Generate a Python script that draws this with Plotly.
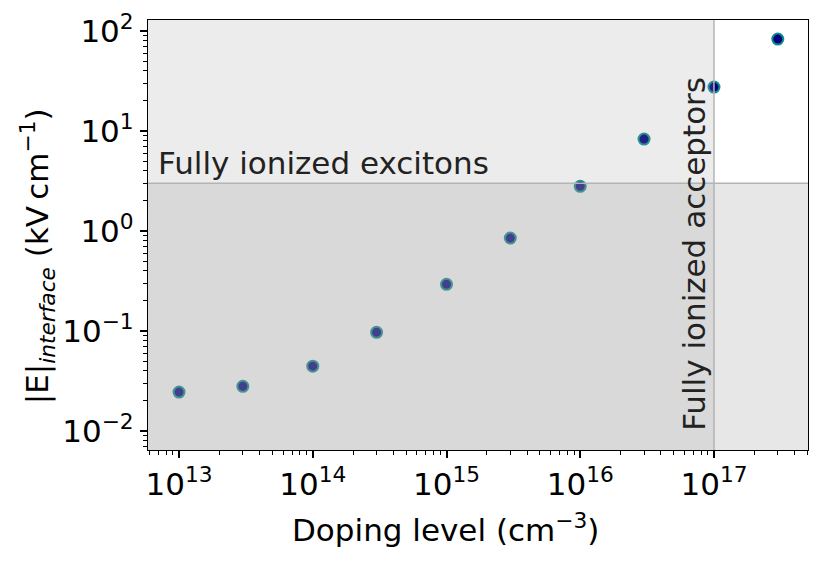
import math
import plotly.graph_objects as go

# doping level (cm^-3) and interface field (kV/cm)
doping = [1e13, 3e13, 1e14, 3e14, 1e15, 3e15, 1e16, 3e16, 1e17, 3e17]
e_field = [0.0245, 0.028, 0.0445, 0.097, 0.293, 0.85, 2.8, 8.3, 27.5, 83.0]

x_tickvals = [1e13, 1e14, 1e15, 1e16, 1e17]
x_ticktext = ["10<sup>13</sup>", "10<sup>14</sup>", "10<sup>15</sup>", "10<sup>16</sup>", "10<sup>17</sup>"]
y_tickvals = [1e-2, 1e-1, 1, 10, 100]
y_ticktext = ["10<sup>\u22122</sup>", "10<sup>\u22121</sup>", "10<sup>0</sup>", "10<sup>1</sup>", "10<sup>2</sup>"]

exciton_field = 3.0      # kV/cm, fully ionized excitons
acceptor_doping = 1e17   # cm^-3, fully ionized acceptors

FONT = "DejaVu Sans"
FS = 31

fig = go.Figure()
fig.add_trace(go.Scatter(
    x=doping, y=e_field, mode="markers",
    marker=dict(size=11, color="#000080", line=dict(color="#0e8c8c", width=2)),
    showlegend=False,
))

# shaded regions drawn over the markers, as in the original
fig.add_shape(type="rect", xref="x", yref="y domain",
              x0=1e5, x1=acceptor_doping, y0=0, y1=1,
              fillcolor="rgba(160,160,160,0.2)", line_width=0, layer="above")
fig.add_shape(type="rect", xref="x domain", yref="y",
              x0=0, x1=1, y0=1e-6, y1=exciton_field,
              fillcolor="rgba(160,160,160,0.25)", line_width=0, layer="above")
fig.add_shape(type="line", xref="x", yref="y domain",
              x0=acceptor_doping, x1=acceptor_doping, y0=0, y1=1,
              line=dict(color="#b4b4b4", width=1.5), layer="above")
fig.add_shape(type="line", xref="x domain", yref="y",
              x0=0, x1=1, y0=exciton_field, y1=exciton_field,
              line=dict(color="#b4b4b4", width=1.5), layer="above")

fig.add_annotation(text="Fully ionized excitons", xref="x domain", yref="y",
                   x=0.012, y=math.log10(exciton_field), xanchor="left", yanchor="bottom",
                   showarrow=False, font=dict(family=FONT, size=FS, color="#222222"))
fig.add_annotation(text="Fully ionized acceptors", xref="x", yref="y domain",
                   x=math.log10(acceptor_doping), y=0.04, xanchor="right", yanchor="bottom",
                   textangle=-90, showarrow=False,
                   font=dict(family=FONT, size=FS, color="#222222"))

# axis titles as annotations so they sit where the original has them
fig.add_annotation(text="Doping level (cm<sup>\u22123</sup>)", xref="paper", yref="paper",
                   x=0.45, y=-0.181, xanchor="center", yanchor="middle", showarrow=False,
                   font=dict(family=FONT, size=FS, color="black"))
fig.add_annotation(text="|E|<sub><i>interface</i></sub> (kV\u2009cm<sup>\u22121</sup>)",
                   xref="paper", yref="paper", x=-0.167, y=0.45,
                   xanchor="center", yanchor="middle", textangle=-90, showarrow=False,
                   font=dict(family=FONT, size=FS, color="black"))

axis_common = dict(
    type="log", showgrid=False, zeroline=False, automargin=False,
    showline=True, linecolor="black", linewidth=1.3, mirror=True,
    ticks="outside", ticklen=7, tickwidth=1.5, tickcolor="black",
    tickfont=dict(family=FONT, size=FS, color="black"),
    minor=dict(ticks="outside", ticklen=4, tickwidth=1, tickcolor="black", dtick="D1", showgrid=False),
)

fig.update_xaxes(**axis_common, range=[12.768, 17.703],
                 tickvals=x_tickvals, ticktext=x_ticktext)
fig.update_yaxes(**axis_common, range=[-2.19, 2.11],
                 tickvals=y_tickvals, ticktext=y_ticktext)

# page body has an 8px margin, so the figure is made 8px smaller
fig.update_layout(
    width=822, height=554,
    margin=dict(l=140, r=22, t=12, b=112),
    plot_bgcolor="white", paper_bgcolor="white",
)

fig.write_html("out.html")
